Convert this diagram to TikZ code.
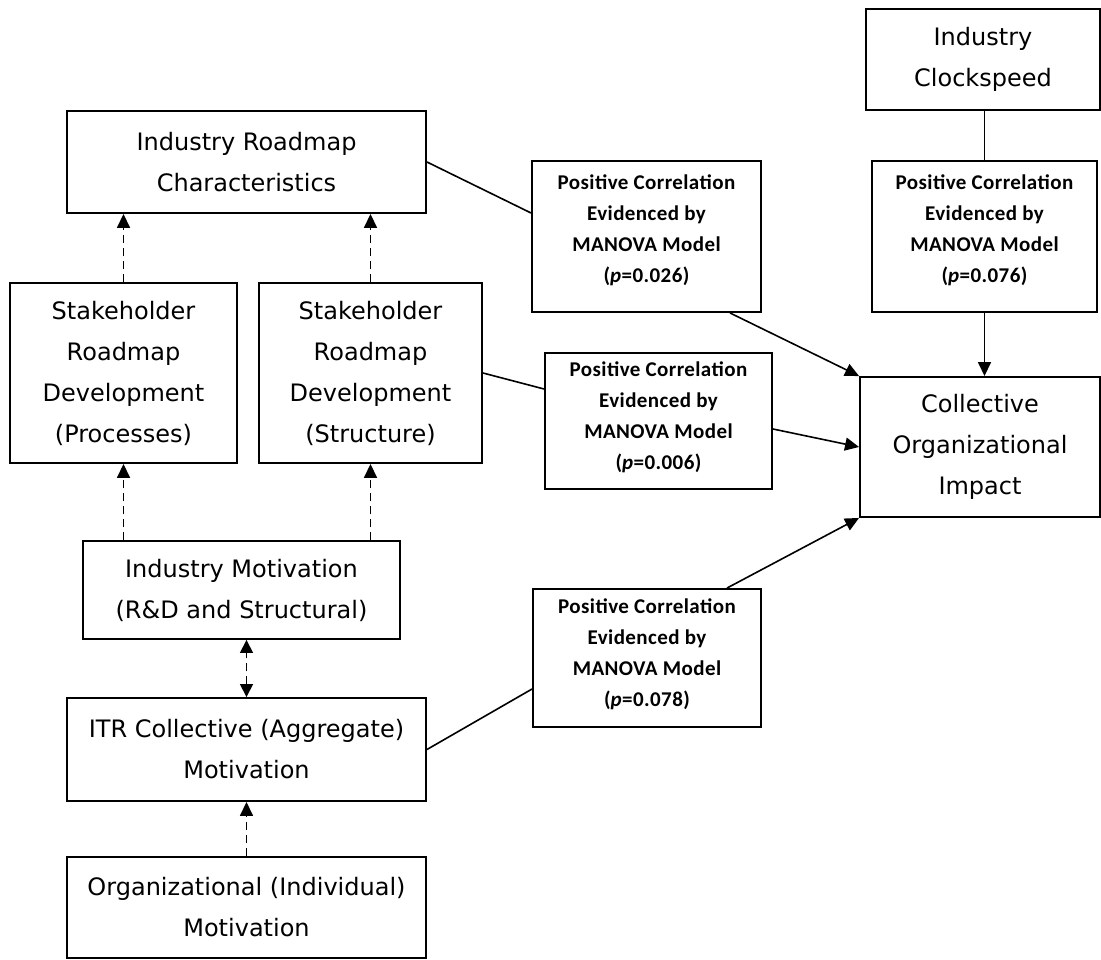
\documentclass[tikz,border=0pt]{standalone}
\usepackage{fontspec}
\setmainfont{DejaVu Sans}
\newfontfamily\pcfont[LetterSpace=2]{Carlito}
\usetikzlibrary{arrows.meta}

\begin{document}
\begin{tikzpicture}[x=1pt,y=-1pt,
  box/.style={draw, line width=1.9pt, inner sep=0pt, align=center,
    font=\fontsize{24}{41}\selectfont},
  pcframe/.style={draw, line width=1.9pt, inner sep=0pt},
  pctext/.style={inner sep=0pt, align=center,
    font=\pcfont\bfseries\fontsize{21}{31}\selectfont},
  link/.style={line width=1.6pt},
  arr/.style={link, -{Triangle[length=14pt,width=13pt]}},
  dasharr/.style={arr, dash pattern=on 8pt off 5pt},
  dashboth/.style={link, dash pattern=on 8pt off 5pt,
    {Triangle[length=13pt,width=13pt]}-{Triangle[length=13pt,width=13pt]}},
  ]
\useasboundingbox (0,0) rectangle (1101,960);

% right column
\node[box, minimum width=234pt, minimum height=101pt] (clock) at (983,59.5) {Industry\\Clockspeed};
\node[pcframe, minimum width=225pt, minimum height=151pt] (pc2) at (984.5,236.5) {};
\node[pctext] (pc2t) at ([yshift=6pt]pc2.center)
  {Positive Correlation\\Evidenced by\\MANOVA Model\\(\textit{p}=0.076)};
\node[box, minimum width=240pt, minimum height=140pt] (coll) at (980,447)
  {Collective\\Organizational\\Impact};

% left column
\node[box, minimum width=359pt, minimum height=102pt] (road) at (246.5,162)
  {Industry Roadmap\\Characteristics};
\node[box, minimum width=227pt, minimum height=180pt] (proc) at (123.5,373)
  {Stakeholder\\Roadmap\\Development\\(Processes)};
\node[box, minimum width=223pt, minimum height=180pt] (struct) at (370.5,373)
  {Stakeholder\\Roadmap\\Development\\(Structure)};
\node[box, minimum width=317pt, minimum height=98pt] (indmot) at (241.5,590)
  {Industry Motivation\\(R\&D and Structural)};
\node[box, minimum width=359pt, minimum height=103pt] (itr) at (246.5,749.5)
  {ITR Collective (Aggregate)\\Motivation};
\node[box, minimum width=359pt, minimum height=101pt] (org) at (246.5,907.5)
  {Organizational (Individual)\\Motivation};

% middle column: correlation results
\node[pcframe, minimum width=229pt, minimum height=151pt] (pc1) at (646.5,236.5) {};
\node[pctext] (pc1t) at ([yshift=6pt]pc1.center)
  {Positive Correlation\\Evidenced by\\MANOVA Model\\(\textit{p}=0.026)};
\node[pcframe, minimum width=227pt, minimum height=136pt] (pc3) at (658.5,421) {};
\node[pctext] (pc3t) at ([yshift=4pt]pc3.center)
  {Positive Correlation\\Evidenced by\\MANOVA Model\\(\textit{p}=0.006)};
\node[pcframe, minimum width=228pt, minimum height=138pt] (pc4) at (647,658) {};
\node[pctext] (pc4t) at ([yshift=4pt]pc4.center)
  {Positive Correlation\\Evidenced by\\MANOVA Model\\(\textit{p}=0.078)};

% dashed links between the motivation and roadmap boxes
\draw[dasharr] (proc.north) -- (proc.north |- road.south);
\draw[dasharr] (struct.north) -- (struct.north |- road.south);
\draw[dasharr] (proc.south |- indmot.north) -- (proc.south);
\draw[dasharr] (struct.south |- indmot.north) -- (struct.south);
\draw[dashboth] (itr.north) -- (itr.north |- indmot.south);
\draw[dasharr] (org.north) -- (itr.south);

% correlations feeding the collective impact
\draw[link] (road.east) -- ([yshift=23.5pt]pc1.west);
\draw[arr] ([xshift=83.5pt]pc1.south) -- (coll.north west);
\draw[link] (struct.east) -- ([yshift=32pt]pc3.west);
\draw[arr] ([yshift=-8pt]pc3.east) -- (coll.west);
\draw[link] (itr.east) -- ([yshift=-31pt]pc4.west);
\draw[arr] ([xshift=80pt]pc4.north) -- (coll.south west);
\draw[link] (pc2.north) -- (pc2.north |- clock.south);
\draw[arr] (pc2.south) -- (pc2.south |- coll.north);
\end{tikzpicture}
\end{document}
